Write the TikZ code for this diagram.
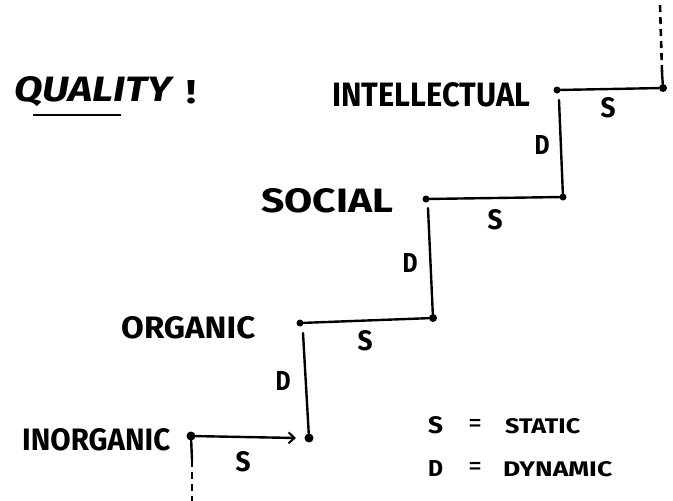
\documentclass[tikz,border=0pt]{standalone}
\usepackage{fontspec}
\setmainfont{Fira Sans}
\usetikzlibrary{arrows.meta}
% set a word at a fixed width and cap height
\newcommand{\fitword}[3]{\resizebox{#1}{#2}{#3}}
\begin{document}
\begin{tikzpicture}[x=1pt,y=-1pt,
  level/.style={font=\bfseries, inner sep=0pt, anchor=base west},
  stepmark/.style={font=\bfseries, inner sep=0pt},
  legend/.style={inner sep=0pt, anchor=base west},
  pt/.style={circle, fill=black, inner sep=0pt, minimum size=7pt},
  stair/.style={line width=2.4pt, line cap=round},
  dashline/.style={line width=2.6pt, dash pattern=on 7pt off 5pt}]
\useasboundingbox (0,0) rectangle (673,501);

% heading
\node[font=\bfseries\itshape, inner sep=0pt, anchor=base west] (title) at (14,101) {\fitword{158pt}{25pt}{QUALITY}};
\node[font=\bfseries, inner sep=0pt, anchor=base west] (bang) at (186,103) {\fitword{10pt}{23pt}{!}};
\draw[line width=2.8pt] (33,115) -- (121,115);

% level points
\node[pt, minimum size=9pt] (inorg) at (191,436) {};
\node[pt, minimum size=9pt] (inorgR) at (309,438) {};
\node[pt] (org) at (300,323) {};
\node[pt, minimum size=8pt] (orgR) at (433,318) {};
\node[pt] (soc) at (426,199) {};
\node[pt] (socR) at (563,197) {};
\node[pt] (intel) at (557,90) {};
\node[pt, minimum size=8pt] (intelR) at (663,88) {};

% ends of the open lines and tops of the rises
\coordinate (bottomSolid) at (192,460);
\coordinate (bottom) at (192,501);
\coordinate (topSolid) at (662,72);
\coordinate (top) at (660,4);
\coordinate (orgTop) at (303,333);
\coordinate (socTop) at (428,208);
\coordinate (intelTop) at (559,100);

% level names
\node[level] (tInorg) at (22,450) {\fitword{148pt}{22pt}{INORGANIC}};
\node[level] (tOrg) at (121,338) {\fitword{134pt}{22pt}{ORGANIC}};
\node[level] (tSoc) at (261,212) {\fitword{132pt}{24pt}{SOCIAL}};
\node[level] (tIntel) at (332,106) {\fitword{198pt}{24pt}{INTELLECTUAL}};

% static steps
\draw[stair, -{Straight Barb[length=6pt,width=11pt,line width=2pt]}] (inorg) -- ([xshift=-13pt]inorgR.center);
\draw[stair] (org) -- (orgR);
\draw[stair] (soc) -- (socR);
\draw[stair] (intel) -- (intelR);

% dynamic steps
\draw[stair] (inorgR) -- (orgTop);
\draw[stair] (orgR) -- (socTop);
\draw[stair] (socR) -- (intelTop);

% open ends
\draw[stair] (inorg) -- (bottomSolid);
\draw[dashline] (bottomSolid) -- (bottom);
\draw[stair] (intelR) -- (topSolid);
\draw[dashline] (topSolid) -- (top);

% step labels
\node[stepmark] (s1) at (243,462) {\fitword{15pt}{20pt}{S}};
\node[stepmark] (d1) at (283,381) {\fitword{15pt}{19pt}{D}};
\node[stepmark] (s2) at (365,341) {\fitword{15pt}{20pt}{S}};
\node[stepmark] (d2) at (410,263) {\fitword{15pt}{19pt}{D}};
\node[stepmark] (s3) at (495,220) {\fitword{15pt}{20pt}{S}};
\node[stepmark] (d3) at (542,145) {\fitword{15pt}{19pt}{D}};
\node[stepmark] (s4) at (608,108) {\fitword{15pt}{20pt}{S}};

% legend
\node[legend, font=\bfseries] (l1s) at (428,433) {\fitword{15pt}{17pt}{S}};
\node[legend] (l1e) at (468,432) {\fitword{14pt}{!}{=}};
\node[legend, font=\bfseries] (l1t) at (505,433) {\fitword{75pt}{15pt}{STATIC}};
\node[legend, font=\bfseries] (l2s) at (428,476) {\fitword{15pt}{16pt}{D}};
\node[legend] (l2e) at (468,475) {\fitword{14pt}{!}{=}};
\node[legend, font=\bfseries] (l2t) at (503,476) {\fitword{109pt}{15pt}{DYNAMIC}};
\end{tikzpicture}
\end{document}
